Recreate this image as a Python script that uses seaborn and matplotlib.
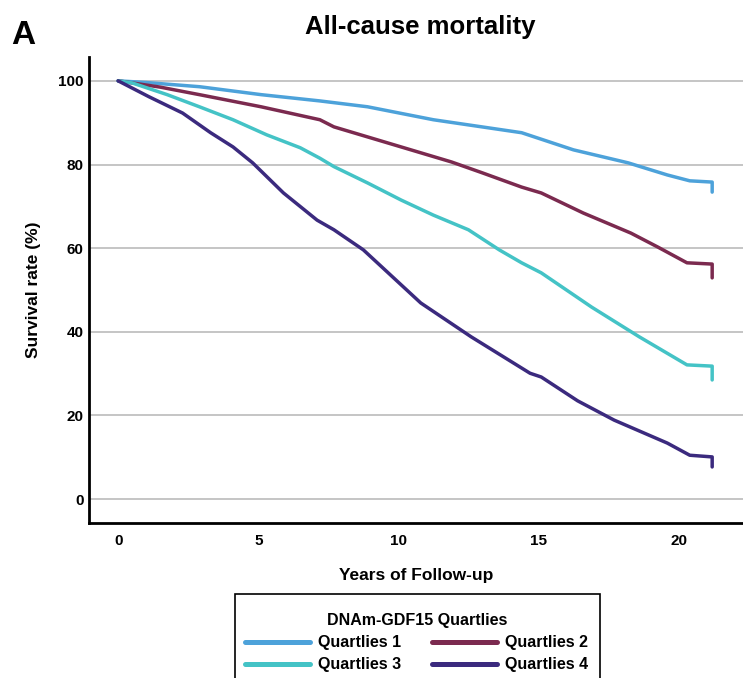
import numpy as np
import pandas as pd
import matplotlib
matplotlib.use("Agg")
import matplotlib.pyplot as plt
from matplotlib.lines import Line2D
from matplotlib.patches import Rectangle
import seaborn as sns

# ---- data ----
groups = ["Quartlies 1", "Quartlies 2", "Quartlies 3", "Quartlies 4"]

q1_t = [0, 1.0, 2.9, 5.1, 7.2, 8.9, 11.25, 14.4, 16.25, 18.2, 19.6, 20.4, 21.2, 21.2]
q1_v = [100, 99.6, 98.6, 96.7, 95.2, 93.8, 90.7, 87.6, 83.5, 80.4, 77.5, 76.1, 75.8, 73.4]

q2_t = [0, 1.5, 2.9, 5.1, 7.2, 7.7, 8.9, 10.7, 11.9, 13.0, 14.4, 15.1, 16.6, 18.3, 19.25, 20.3, 21.2, 21.2]
q2_v = [100, 98.5, 96.7, 93.8, 90.7, 89.0, 86.6, 83.0, 80.6, 78.0, 74.6, 73.2, 68.4, 63.6, 60.3, 56.5, 56.2, 52.9]

q3_t = [0, 0.5, 1.75, 2.9, 4.1, 5.3, 6.5, 7.2, 7.7, 8.9, 10.1, 11.25, 12.5, 13.6, 14.4, 15.1, 16.9, 18.6, 20.3, 21.2, 21.2]
q3_v = [100, 99.5, 96.7, 93.8, 90.7, 87.1, 84.0, 81.5, 79.5, 75.6, 71.5, 67.9, 64.4, 59.6, 56.5, 54.1, 45.9, 38.8, 32.1, 31.8, 28.5]

q4_t = [0, 1.1, 2.3, 3.3, 4.1, 4.8, 5.9, 7.1, 7.7, 8.75, 10.8, 12.6, 14.7, 15.1, 16.4, 17.7, 19.6, 20.4, 21.2, 21.2]
q4_v = [100, 96.2, 92.3, 87.6, 84.2, 80.4, 73.2, 66.7, 64.4, 59.6, 46.9, 38.8, 30.1, 29.2, 23.5, 18.9, 13.4, 10.5, 10.1, 7.7]

x_ticks = [0, 5, 10, 15, 20]
y_ticks = [0, 20, 40, 60, 80, 100]

colors = {"Quartlies 1": "#4da2da", "Quartlies 2": "#7b2a4f",
          "Quartlies 3": "#44c3c6", "Quartlies 4": "#3b2a7e"}

series = [(groups[0], q1_t, q1_v), (groups[1], q2_t, q2_v),
          (groups[2], q3_t, q3_v), (groups[3], q4_t, q4_v)]
rows = []
for g, ts, vs in series:
    for t, v in zip(ts, vs):
        rows.append({"group": g, "t": t, "v": v})
df = pd.DataFrame(rows)

# ---- figure ----
sns.set_theme(style="white")
plt.rcParams['font.family'] = ['Liberation Sans', 'DejaVu Sans']
plt.rcParams['text.color'] = 'black'
plt.rcParams['axes.labelcolor'] = 'black'
plt.rcParams['xtick.color'] = 'black'
plt.rcParams['ytick.color'] = 'black'

fig = plt.figure(figsize=(7.43, 6.78), dpi=100)
ax = fig.add_axes([89/743, 155/678, 1 - 89/743, (523-57)/678])

sns.lineplot(data=df, x="t", y="v", hue="group", palette=colors,
             estimator=None, sort=False, linewidth=2.5, legend=False, ax=ax)

ax.set_xlim(-1.04, 22.3)
ax.set_ylim(-5.7, 105.7)
ax.set_xticks(x_ticks)
ax.set_yticks(y_ticks)
ax.set_xticklabels([str(v) for v in x_ticks], fontsize=11, fontweight="bold")
ax.set_yticklabels([str(v) for v in y_ticks], fontsize=11, fontweight="bold")
ax.tick_params(axis="x", length=0, pad=8)
ax.tick_params(axis="y", length=0, pad=4)
ax.yaxis.grid(True, color="#b5b5b5", linewidth=1.1)
ax.xaxis.grid(False)
ax.set_axisbelow(True)

for s in ["top", "right"]:
    ax.spines[s].set_visible(False)
for s in ["left", "bottom"]:
    ax.spines[s].set_color("black")
    ax.spines[s].set_linewidth(2.0)

ax.set_xlabel("Years of Follow-up", fontsize=12.5, fontweight="bold", labelpad=14)
ax.set_ylabel("Survival rate (%)", fontsize=12.5, fontweight="bold", labelpad=12)

fig.text(420/743, 1 - 27/678, "All-cause mortality", ha="center", va="center",
         fontsize=18.5, fontweight="bold")
fig.text(23/743, 1 - 35/678, "A", ha="center", va="center",
         fontsize=24, fontweight="bold")

# legend: row-wise order Q1 Q2 / Q3 Q4 with ncol=2 (column-major filling)
order = [groups[0], groups[2], groups[1], groups[3]]
handles = [Line2D([0], [0], color=colors[g], linewidth=3.6) for g in order]
leg = ax.legend(handles, order, title="DNAm-GDF15 Quartlies", ncol=2,
                loc="upper left", bbox_to_anchor=(245/743, 1 - 613/678),
                bbox_transform=fig.transFigure, frameon=False,
                prop={"weight": "bold", "size": 11.5},
                title_fontproperties={"weight": "bold", "size": 11.5},
                handlelength=4.1, handletextpad=0.5, columnspacing=1.9,
                borderpad=0, labelspacing=0.45, borderaxespad=0)
fig.add_artist(Rectangle((235/743, -0.05), (600-235)/743, 0.05 + (678-594)/678,
                         transform=fig.transFigure, fill=False,
                         edgecolor="black", linewidth=1.2, clip_on=False))

fig.savefig("out.png", dpi=100)
